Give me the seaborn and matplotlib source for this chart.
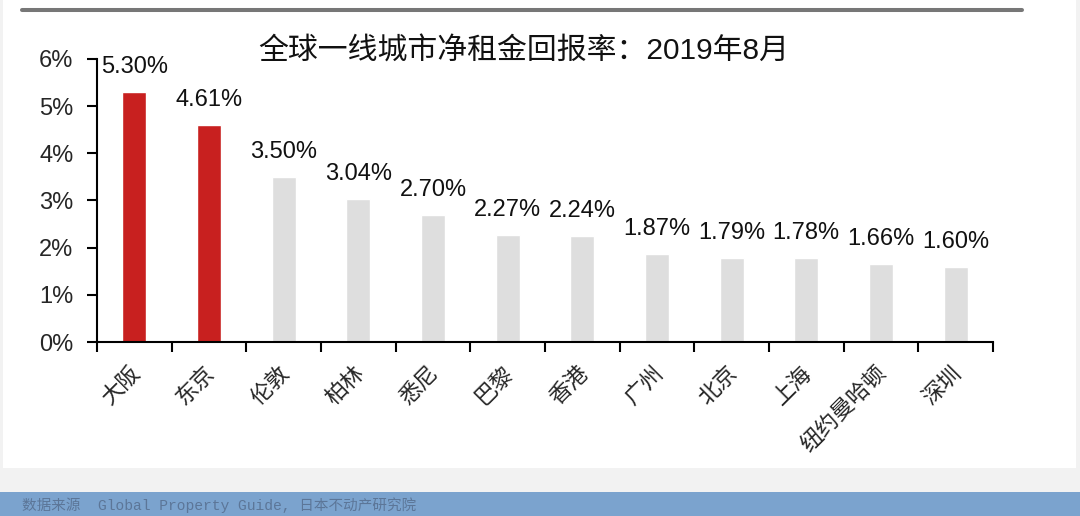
import numpy as np
import pandas as pd
import matplotlib
matplotlib.use("Agg")
import matplotlib.pyplot as plt
import matplotlib.transforms as mtransforms
from matplotlib.patches import Rectangle
from matplotlib.lines import Line2D
import seaborn as sns

cities = ["大阪", "东京", "伦敦", "柏林", "悉尼", "巴黎", "香港", "广州", "北京", "上海", "纽约曼哈顿", "深圳"]
yields = [5.30, 4.61, 3.50, 3.04, 2.70, 2.27, 2.24, 1.87, 1.79, 1.78, 1.66, 1.60]
value_labels = ["5.30%", "4.61%", "3.50%", "3.04%", "2.70%", "2.27%", "2.24%", "1.87%", "1.79%", "1.78%", "1.66%", "1.60%"]
y_ticks = [0, 1, 2, 3, 4, 5, 6]
y_tick_labels = ["0%", "1%", "2%", "3%", "4%", "5%", "6%"]
title = "全球一线城市净租金回报率：2019年8月"
source = "数据来源  Global Property Guide, 日本不动产研究院"

RED = "#C8201F"
GREY = "#DEDEDE"
bar_colors = [RED, RED] + [GREY] * 10

sns.set_theme(style="white")
plt.rcParams["font.family"] = ["Liberation Sans", "Noto Sans CJK SC", "DejaVu Sans"]

df = pd.DataFrame({"city": cities, "yield": yields})

fig = plt.figure(figsize=(10.8, 5.16), dpi=100, facecolor="#F2F2F2")
# white panel and bottom band
fig.patches.append(Rectangle((0.003, 0.093), 0.9935, 0.907, transform=fig.transFigure,
                             facecolor="white", edgecolor="none", zorder=-10))
fig.patches.append(Rectangle((0.0, 0.0), 1.0, 0.0465, transform=fig.transFigure,
                             facecolor="#7BA3CE", edgecolor="none", zorder=-10))
fig.lines.append(Line2D([0.0204, 0.946], [0.9806, 0.9806], transform=fig.transFigure,
                        color="#777777", linewidth=2.9, zorder=-5))

ax = fig.add_axes([0.0898, 0.3372, 0.8296, 0.5485])
ax.set_zorder(5)
ax.set_facecolor("none")
sns.barplot(data=df, x="city", y="yield", hue="city", palette=bar_colors,
            legend=False, width=0.32, ax=ax, saturation=1)

ax.set_ylim(0, 6)
ax.set_xlim(-0.5, len(cities) - 0.5)
ax.set_yticks(y_ticks)
ax.set_yticklabels(y_tick_labels, fontsize=17)
ax.set_xlabel("")
ax.set_ylabel("")

ax.set_xticks(np.arange(-0.5, len(cities), 1.0), minor=True)
ax.tick_params(axis="x", which="major", length=0, pad=20)
ax.tick_params(axis="x", which="minor", length=7, width=1.5, direction="out", color="black", bottom=True)
ax.tick_params(axis="y", which="major", length=7, width=1.5, direction="out", color="black", pad=10, left=True)

ax.set_xticks(range(len(cities)))
ax.set_xticklabels(cities, rotation=45, ha="right", va="center", rotation_mode="anchor",
                   fontsize=16, family=["Noto Sans CJK SC"])
offset = mtransforms.ScaledTranslation(2 / 100, 0, fig.dpi_scale_trans)
for lbl in ax.get_xticklabels():
    lbl.set_transform(lbl.get_transform() + offset)

for side in ["top", "right"]:
    ax.spines[side].set_visible(False)
for side in ["left", "bottom"]:
    ax.spines[side].set_color("black")
    ax.spines[side].set_linewidth(1.5)

for patch, lab in zip(ax.patches, value_labels):
    x = patch.get_x() + patch.get_width() / 2
    h = patch.get_height()
    ax.annotate(lab, (x, h), xytext=(0, 25), textcoords="offset pixels",
                ha="center", va="center", fontsize=17, color="#111111", clip_on=False)

fig.text(0.485, 0.9, title, ha="center", va="center", fontsize=21.5,
         family=["Liberation Sans", "Noto Sans CJK SC"], color="#111111")
fig.text(0.02, 0.022, source, ha="left", va="center", fontsize=10.5,
         family=["Liberation Mono", "Noto Sans CJK SC"], color="#5C7698")

fig.savefig("out.png", dpi=100, facecolor=fig.get_facecolor())
